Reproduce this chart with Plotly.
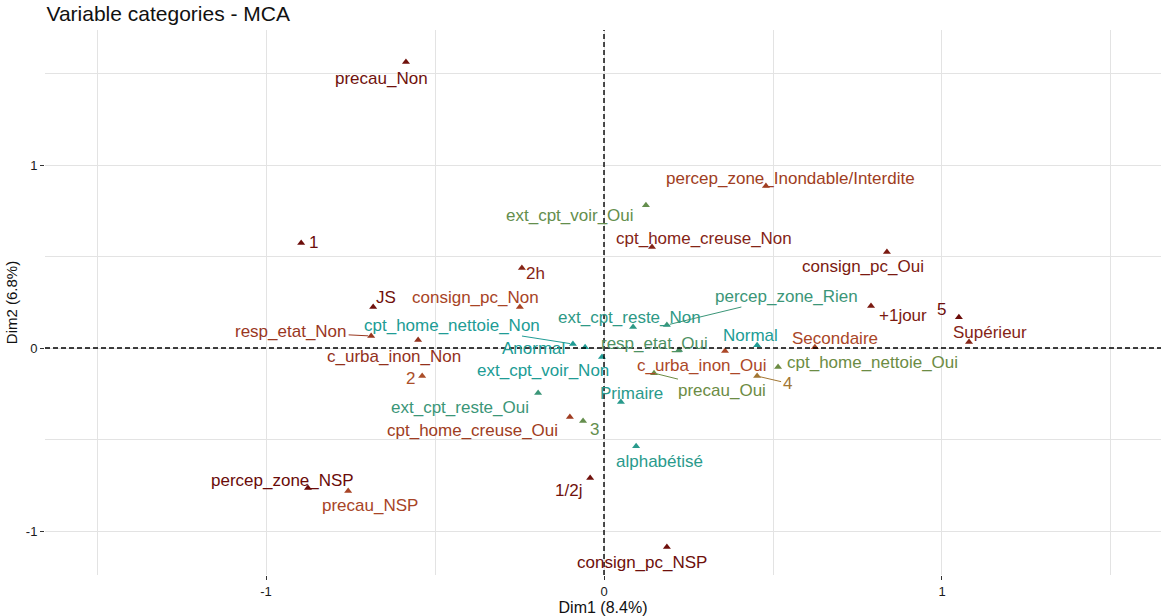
import plotly.graph_objects as go
from plotly.colors import sample_colorscale

# MCA variable categories (coordinates)
categories = [
    "precau_Non", "percep_zone_Inondable/Interdite", "ext_cpt_voir_Oui",
    "cpt_home_creuse_Non", "consign_pc_Oui", "1", "2h", "JS", "consign_pc_Non",
    "resp_etat_Non", "cpt_home_nettoie_Non", "Anormal", "ext_cpt_voir_Non",
    "c_urba_inon_Non", "2", "ext_cpt_reste_Oui", "cpt_home_creuse_Oui", "3",
    "Primaire", "alphabétisé", "1/2j", "consign_pc_NSP", "percep_zone_NSP",
    "precau_NSP", "ext_cpt_reste_Non", "percep_zone_Rien", "resp_etat_Oui",
    "Normal", "c_urba_inon_Oui", "precau_Oui", "4", "cpt_home_nettoie_Oui",
    "Secondaire", "+1jour", "5", "Supérieur",
]
dim1 = [
    -0.586, 0.479, 0.124, 0.142, 0.837, -0.896, -0.243, -0.683, -0.249,
    -0.689, -0.092, -0.056, -0.006, -0.550, -0.538, -0.195, -0.101, -0.062,
    0.050, 0.095, -0.041, 0.186, -0.876, -0.757, 0.086, 0.186, 0.222,
    0.453, 0.358, 0.148, 0.453, 0.515, 0.624, 0.790, 1.050, 1.080,
]
dim2 = [
    1.563, 0.885, 0.781, 0.552, 0.525, 0.574, 0.437, 0.224, 0.224,
    0.066, 0.022, 0.005, -0.049, 0.044, -0.153, -0.246, -0.377, -0.399,
    -0.295, -0.536, -0.710, -1.087, -0.765, -0.781, 0.115, 0.126, -0.011,
    0.016, -0.016, -0.137, -0.153, -0.104, 0.005, 0.230, 0.169, 0.033,
]
# relative contribution (drives the colour gradient)
contrib = [
    0.95, 0.72, 0.30, 0.85, 0.90, 0.97, 0.85, 0.95, 0.68,
    0.75, 0.05, 0.05, 0.05, 0.78, 0.64, 0.15, 0.72, 0.30,
    0.08, 0.08, 0.95, 0.96, 0.98, 0.68, 0.10, 0.15, 0.22,
    0.05, 0.66, 0.33, 0.50, 0.33, 0.67, 0.90, 0.97, 0.85,
]

# label placement (pixel offsets from the point, repel-style) and segments
label_dx = [-24, 25, -76, 52, -24, 12, 14, 13, -44, -80, -121, -52, -59, -24, -12,
            -78, -97, 11, 11, 23, -22, -25, -25, 22, -4, 120, -25, -7, -24, 68,
            30, 94, 20, 32, -17, 21]
label_dy = [16, -8, 10, -9, 15, -1, 5, -10, -10, -4, -19, 1, 13, 16, 2,
            14, 13, 8, -9, 15, 12, 15, -8, 14, -10, -29, -7, -10, 14, 17,
            7, -5, -9, 10, -8, -10]
with_segment = {"resp_etat_Non", "cpt_home_nettoie_Non", "percep_zone_Rien",
                "precau_Oui", "4"}

gradient = [
    [0.0, "#139FA3"],
    [0.33, "#6C8C44"],
    [0.5, "#A27632"],
    [0.66, "#AC4828"],
    [1.0, "#660707"],
]
label_colors = sample_colorscale(gradient, contrib)

FONT = "Liberation Sans, Arial, sans-serif"

fig = go.Figure()
fig.add_trace(
    go.Scatter(
        x=dim1,
        y=dim2,
        mode="markers",
        marker=dict(symbol="triangle-up", size=7, color=contrib,
                    colorscale=gradient, cmin=0, cmax=1, showscale=False),
        text=categories,
        hoverinfo="text",
        showlegend=False,
    )
)

fig.add_hline(y=0, line=dict(color="black", width=1.4, dash="5px,3px"))
fig.add_vline(x=0, line=dict(color="black", width=1.4, dash="5px,3px"))

for name, x, y, dx, dy, color in zip(categories, dim1, dim2, label_dx,
                                     label_dy, label_colors):
    if name in with_segment:
        fig.add_annotation(
            x=x, y=y, text=name, showarrow=True, ax=dx, ay=dy,
            arrowhead=0, arrowwidth=1, arrowcolor=color, standoff=3,
            font=dict(size=17, color=color, family=FONT),
        )
    else:
        fig.add_annotation(
            x=x, y=y, text=name, showarrow=False, xshift=dx, yshift=-dy,
            font=dict(size=17, color=color, family=FONT),
        )

axis_style = dict(
    showline=False,
    zeroline=False,
    showgrid=True,
    gridcolor="#E3E3E3",
    gridwidth=1,
    ticks="outside",
    ticklen=4,
    tickcolor="#333333",
    automargin=False,
    tickfont=dict(size=13, color="#1A1A1A", family=FONT),
    minor=dict(dtick=0.5, showgrid=True, gridcolor="#E3E3E3", gridwidth=1),
)

fig.update_xaxes(
    range=[-1.654, 1.648], tickvals=[-1, 0, 1], ticktext=["-1", "0", "1"],
    title=dict(text="Dim1 (8.4%)", font=dict(size=16, color="#111111", family=FONT),
               standoff=0),
    **axis_style,
)
fig.update_yaxes(
    range=[-1.240, 1.738], tickvals=[-1, 0, 1], ticktext=["-1", "0", "1"],
    title=dict(text="Dim2 (6.8%)", font=dict(size=15, color="#111111", family=FONT),
               standoff=4),
    **axis_style,
)

fig.update_layout(
    width=1161,
    height=616,
    template="plotly_white",
    plot_bgcolor="white",
    paper_bgcolor="white",
    margin=dict(l=45, r=0, t=30, b=41),
    title=dict(text="Variable categories - MCA", x=0.04, xref="container",
               xanchor="left", y=0.978, yanchor="middle", automargin=False,
               font=dict(size=21, color="#111111", family=FONT)),
    showlegend=False,
)

# drop the browser's default page margin so the figure sits at the top-left
fig.write_html(
    "out.html",
    config={"displayModeBar": False},
    post_script="document.body.style.margin = '0';",
)
